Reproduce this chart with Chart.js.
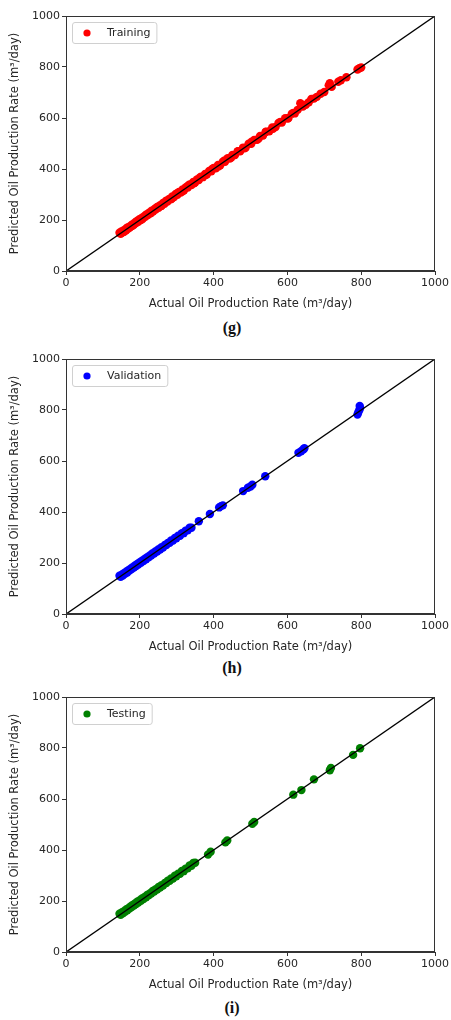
<!DOCTYPE html>
<html>
<head>
<meta charset="utf-8">
<script src="https://cdn.jsdelivr.net/npm/chart.js@4.4.1/dist/chart.umd.min.js"></script>
<style>
  html, body { margin: 0; padding: 0; background: #fff; }
  body { width: 451px; height: 1020px; position: relative; overflow: hidden; }
  .panel { position: absolute; left: 0; width: 451px; height: 315px; }
  .panel canvas { display: block; }
  .cap { position: absolute; left: 0; width: 464px; text-align: center;
         font: bold 16px "Liberation Serif", "Times New Roman", serif; color: #111; line-height: 18px; }
</style>
</head>
<body>
<div class="panel" style="top:0px"><canvas id="c1" width="451" height="315"></canvas></div>
<div class="cap" style="top:319px">(g)</div>
<div class="panel" style="top:343px"><canvas id="c2" width="451" height="315"></canvas></div>
<div class="cap" style="top:659px">(h)</div>
<div class="panel" style="top:681px"><canvas id="c3" width="451" height="315"></canvas></div>
<div class="cap" style="top:999px">(i)</div>

<script>
// Axis ranges and tick labels
const axisTicks = [0, 200, 400, 600, 800, 1000];
const xTitle = 'Actual Oil Production Rate (m\u00B3/day)';
const yTitle = 'Predicted Oil Production Rate (m\u00B3/day)';
const idealLine = [0, 1000];

// Training set: actual vs predicted rates
const trainActual = [
  145,148,150,152,155,158,160,163,165,168,170,173,176,178,181,184,187,190,193,196,
  199,202,205,208,212,215,218,222,225,229,232,236,240,243,247,251,255,259,263,267,
  271,275,280,284,288,293,297,302,306,311,316,320,325,330,335,340,345,350,355,360,
  366,371,377,382,388,394,400,406,412,418,425,431,438,444,451,458,465,472,480,487,
  495,502,510,518,526,534,542,551,559,568,576,585,594,603,612,620,
  157,167,180,192,204,217,230,244,258,272,287,301,316,331,347,363,379,396,413,430,
  448,466,484,503,522,541,561,581,601,616,
  628,635,642,650,658,665,672,680,690,700,712,715,720,738,745,760,790,795,800
];
const trainPredicted = [
  150,146,155,150,158,155,163,160,169,166,172,170,179,176,184,181,190,188,196,193,
  203,200,208,205,215,213,222,219,229,226,236,233,243,241,251,248,258,256,267,264,
  275,272,283,281,292,290,301,299,310,308,320,317,329,327,339,337,349,347,359,357,
  370,368,381,379,392,391,404,403,416,415,429,428,442,441,455,455,469,469,484,484,
  499,499,514,515,530,531,546,548,563,565,581,582,599,600,617,618,
  154,171,177,195,201,220,227,247,255,276,284,305,313,335,344,367,376,400,410,434,
  445,470,481,507,519,545,558,585,598,620,
  632,658,645,652,662,675,676,683,695,702,728,736,722,742,748,760,790,795,798
];

// Validation set
const valActual = [
  145,148,151,154,157,160,163,166,169,172,175,178,181,184,187,190,193,196,200,203,
  206,210,213,217,220,224,228,231,235,239,243,247,251,255,259,263,268,272,276,281,
  285,290,295,299,304,309,314,319,324,330,335,340,
  360,390,415,420,425,480,493,500,505,540,630,637,643,646,790,792,795,797,796
];
const valPredicted = [
  150,146,154,151,160,158,166,163,172,170,178,176,184,182,190,188,196,194,203,201,
  209,208,216,215,223,222,231,229,238,237,246,245,254,253,262,261,271,270,279,279,
  288,288,298,297,307,307,317,317,327,328,338,338,
  364,392,418,423,426,482,495,500,507,540,632,638,645,650,782,790,800,808,816
];

// Testing set
const testActual = [
  145,148,151,154,157,160,163,166,169,172,175,178,181,184,187,190,193,196,200,203,
  206,210,213,217,220,224,228,231,235,239,243,247,251,255,259,263,268,272,276,281,
  285,290,295,299,304,309,314,319,324,330,335,340,345,350,
  385,392,432,437,505,510,616,638,672,715,718,778,797
];
const testPredicted = [
  150,146,155,152,160,158,167,164,172,170,179,176,185,182,190,188,197,194,203,201,
  210,208,216,215,224,222,231,229,239,237,246,245,255,253,262,261,271,270,280,279,
  288,288,299,297,307,307,318,317,327,328,339,338,349,350,
  382,393,430,437,503,510,617,635,677,713,722,773,799
];

const FONT = '"DejaVu Sans", "Liberation Sans", sans-serif';
const TEXT = '#262626';
const FRAME = '#333333';
const FONT_SIZE = 11;
const TITLE_SIZE = 11.5;

function toPoints(xs, ys) {
  return xs.map((v, i) => ({ x: v, y: ys[i] }));
}

// Full box around the plotting area (matplotlib-style spines)
const frameBox = {
  id: 'frameBox',
  afterDatasetsDraw(chart) {
    const a = chart.chartArea, ctx = chart.ctx;
    ctx.save();
    ctx.strokeStyle = FRAME;
    ctx.lineWidth = 1;
    const l = Math.round(a.left) + 0.5, t = Math.round(a.top) + 0.5;
    const r = Math.round(a.right) - 0.5, b = Math.round(a.bottom) - 0.5;
    ctx.strokeRect(l, t, r - l, b - t);
    ctx.restore();
  }
};

// Legend drawn inside the upper-left corner of the plot
const insetLegend = {
  id: 'insetLegend',
  afterDraw(chart) {
    const ds = chart.data.datasets[0];
    const a = chart.chartArea, ctx = chart.ctx;
    ctx.save();
    ctx.font = FONT_SIZE + 'px ' + FONT;
    const tw = ctx.measureText(ds.label).width;
    const x = a.left + 6, y = a.top + 6, h = 21, w = 35 + tw + 6;
    ctx.beginPath();
    ctx.roundRect(x + 0.5, y + 0.5, w, h, 2.5);
    ctx.fillStyle = 'rgba(255,255,255,0.85)';
    ctx.fill();
    ctx.strokeStyle = '#d0d0d0';
    ctx.lineWidth = 1;
    ctx.stroke();
    ctx.beginPath();
    ctx.arc(x + 15, y + 11, 3.6, 0, Math.PI * 2);
    ctx.fillStyle = ds.backgroundColor;
    ctx.fill();
    ctx.fillStyle = TEXT;
    ctx.textBaseline = 'middle';
    ctx.fillText(ds.label, x + 35, y + 11.5);
    ctx.restore();
  }
};

function axisOptions(isX) {
  const opts = {
    type: 'linear',
    min: 0,
    max: 1000,
    afterBuildTicks(s) { s.ticks = axisTicks.map(v => ({ value: v })); },
    ticks: {
      color: TEXT, font: { family: FONT, size: FONT_SIZE }, padding: 2, maxRotation: 0, autoSkip: false,
      callback: v => String(v)
    },
    grid: { drawOnChartArea: false, drawTicks: true, tickLength: 4, color: FRAME, lineWidth: 1 },
    border: { display: true, color: FRAME, width: 1 },
    title: { display: true, text: isX ? xTitle : yTitle, color: TEXT, font: { family: FONT, size: TITLE_SIZE } }
  };
  if (isX) {
    opts.title.padding = { top: 0, bottom: 4 };
    opts.afterFit = s => { s.height = 44; };
  } else {
    opts.title.padding = { top: 8, bottom: 0 };
    opts.afterFit = s => { s.width = 66; };
  }
  return opts;
}

function makePanel(id, label, color, xs, ys) {
  new Chart(document.getElementById(id), {
    type: 'scatter',
    data: {
      datasets: [
        {
          label: label,
          data: toPoints(xs, ys),
          backgroundColor: color,
          borderColor: color,
          borderWidth: 0,
          pointRadius: 4.2,
          pointHoverRadius: 4.2,
          order: 1
        },
        {
          label: 'ideal',
          data: toPoints(idealLine, idealLine),
          showLine: true,
          borderColor: '#000000',
          borderWidth: 1.4,
          pointRadius: 0,
          order: 0
        }
      ]
    },
    options: {
      responsive: false,
      animation: false,
      devicePixelRatio: 1,
      layout: { padding: { top: 16, right: 16, left: 0, bottom: 0 } },
      plugins: { legend: { display: false }, tooltip: { enabled: false } },
      scales: { x: axisOptions(true), y: axisOptions(false) }
    },
    plugins: [frameBox, insetLegend]
  });
}

makePanel('c1', 'Training', '#ff0000', trainActual, trainPredicted);
makePanel('c2', 'Validation', '#0000ff', valActual, valPredicted);
makePanel('c3', 'Testing', '#008000', testActual, testPredicted);
</script>
</body>
</html>
